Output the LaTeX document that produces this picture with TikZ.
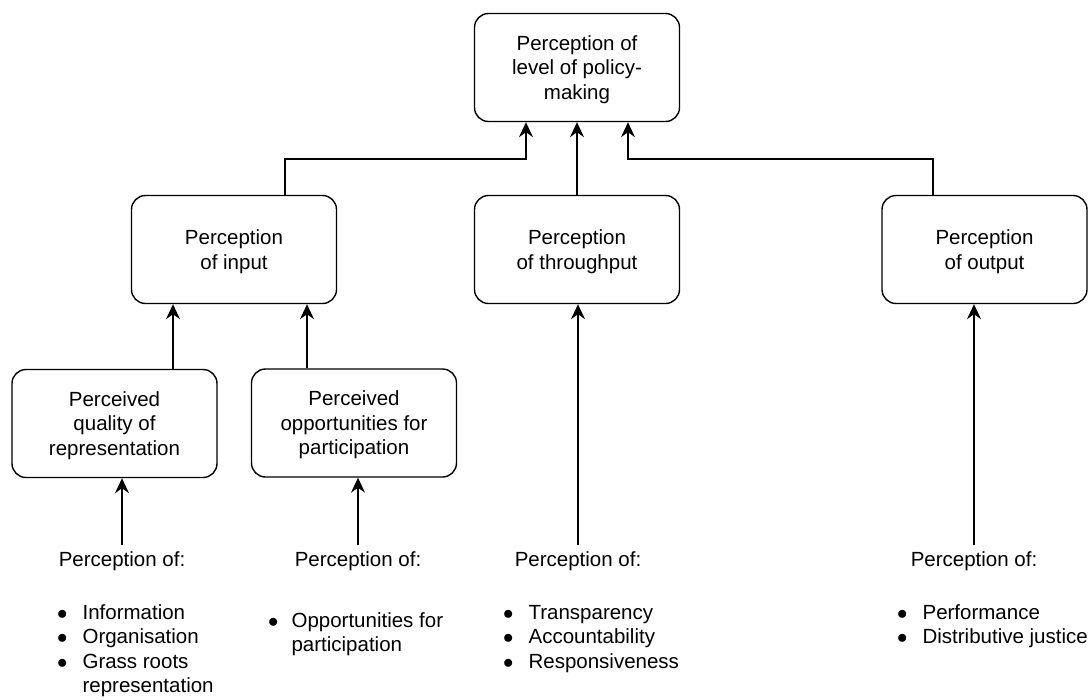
\documentclass[tikz,border=0pt]{standalone}
\usepackage{fontspec}
\setmainfont{Liberation Sans}
\usetikzlibrary{positioning}
\usetikzlibrary{arrows.meta}
\newcommand{\blt}{$\bullet$}

\begin{document}
\begin{tikzpicture}[
    x=1pt, y=-1pt,
    box/.style={draw, rounded corners=14pt, line width=1.4pt, minimum width=205pt, minimum height=108pt, align=center, inner sep=0pt,
        text depth=-3pt},
    lbl/.style={inner sep=0pt},
    blist/.style={inner sep=0pt, anchor=base west},
    arr/.style={-{Stealth[length=15pt,width=14pt,inset=5pt]}, line width=1.5pt},
    font=\fontsize{20.5}{24.5}\selectfont
]
    \useasboundingbox (0,0) rectangle (1092,699);

    \node[box] (top) at (577,67.5) {Perception of\\level of policy-\\making};

    \node[box] (inp) at (234,249.5) {Perception\\of input};
    \node[box] (thr) at (577,249.5) {Perception\\of throughput};
    \node[box] (out) at (984.5,249.5) {Perception\\of output};

    \node[box] (rep) at (114.5,423.5) {Perceived\\quality of\\representation};
    \node[box] (par) at (354,423) {Perceived\\opportunities for\\participation};

    \node[lbl] (pr1) at (122,561) {Perception of:};
    \node[lbl] (pr2) at (358,561) {Perception of:};
    \node[lbl] (pr3) at (578,561) {Perception of:};
    \node[lbl] (pr4) at (974,561) {Perception of:};

    \node[blist] (ls1) at (57,619) {\begin{tabular}[t]{@{}l@{\hspace{15pt}}l@{}}
        \blt & Information\\
        \blt & Organisation\\
        \blt & Grass roots\\
             & representation
    \end{tabular}};
    \node[blist] (ls2) at (268,627) {\begin{tabular}[t]{@{}l@{\hspace{13pt}}l@{}}
        \blt & Opportunities for\\
             & participation
    \end{tabular}};
    \node[blist] (ls3) at (503,619) {\begin{tabular}[t]{@{}l@{\hspace{15pt}}l@{}}
        \blt & Transparency\\
        \blt & Accountability\\
        \blt & Responsiveness
    \end{tabular}};
    \node[blist] (ls4) at (897,619) {\begin{tabular}[t]{@{}l@{\hspace{15pt}}l@{}}
        \blt & Performance\\
        \blt & Distributive justice
    \end{tabular}};

    % into the top box
    \draw[arr] ([xshift=51pt]inp.north) -- ++(0,-36) -| ([xshift=-51pt]top.south);
    \draw[arr] (thr.north) -- (top.south);
    \draw[arr] ([xshift=-51.5pt]out.north) -- ++(0,-36) -| ([xshift=51pt]top.south);

    % into perception of input
    \draw[arr] ([xshift=58.5pt]rep.north) -- ([xshift=58.5pt]rep.north |- inp.south);
    \draw[arr] ([xshift=-47pt]par.north) -- ([xshift=-47pt]par.north |- inp.south);

    % from the lists
    \draw[arr] ([yshift=6pt]pr1.north) -- (pr1.north |- rep.south);
    \draw[arr] ([yshift=6pt]pr2.north) -- (pr2.north |- par.south);
    \draw[arr] ([yshift=6pt]pr3.north) -- (pr3.north |- thr.south);
    \draw[arr] ([yshift=6pt]pr4.north) -- (pr4.north |- out.south);
\end{tikzpicture}
\end{document}
